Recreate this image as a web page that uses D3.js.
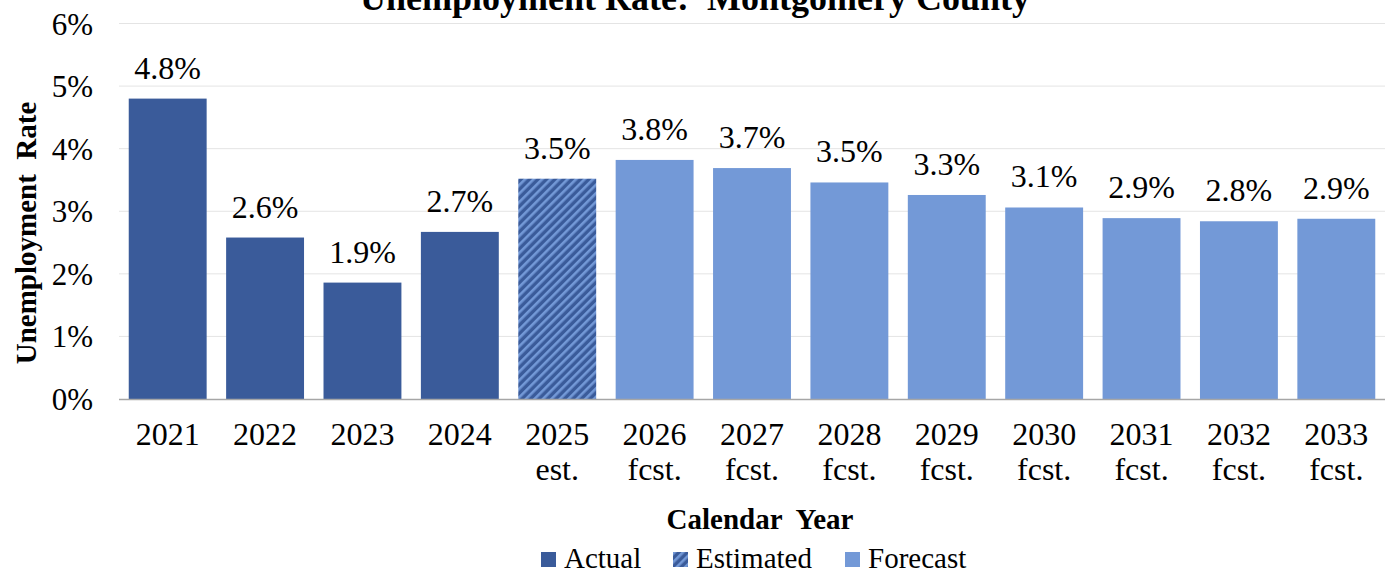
<!DOCTYPE html>
<html>
<head>
<meta charset="utf-8">
<script src="https://cdn.jsdelivr.net/npm/d3@7"></script>
<style>
	body { margin: 0; background: #fff; }
	svg text { font-family: "Liberation Serif", "Times New Roman", serif !important; fill: #000; }
</style>
</head>
<body>
<svg id="chart" width="1391" height="572" font-family="Liberation Serif"></svg>
<script>
// chart data
var years = ["2021", "2022", "2023", "2024", "2025", "2026", "2027", "2028", "2029", "2030", "2031", "2032", "2033"];
var subLabels = ["", "", "", "", "est.", "fcst.", "fcst.", "fcst.", "fcst.", "fcst.", "fcst.", "fcst.", "fcst."];
var rates = [4.8, 2.58, 1.86, 2.67, 3.52, 3.82, 3.69, 3.46, 3.26, 3.06, 2.89, 2.84, 2.88];
var kinds = ["Actual", "Actual", "Actual", "Actual", "Estimated", "Forecast", "Forecast", "Forecast", "Forecast", "Forecast", "Forecast", "Forecast", "Forecast"];
var yTicks = [0, 1, 2, 3, 4, 5, 6];
var legendItems = ["Actual", "Estimated", "Forecast"];

var dark = "#3a5b9a",
	light = "#7399d7";

var svg = d3.select("#chart");

//plot area
var margin = {top: 23.5, left: 119, right: 6, bottom: 173},
	width = 1391 - margin.left - margin.right,
	height = 572 - margin.top - margin.bottom;

var g = svg.append("g")
	.attr("transform", "translate(" + margin.left + "," + margin.top + ")");

var x = d3.scaleBand()
	.domain(years)
	.range([0, width])
	.paddingInner(0.2)
	.paddingOuter(0.1);

var y = d3.scaleLinear()
	.domain([0, 6])
	.range([height, 0]);

//hatch pattern for the estimate
var defs = svg.append("defs");
var pat = defs.append("pattern")
	.attr("id", "hatch")
	.attr("patternUnits", "userSpaceOnUse")
	.attr("width", 6)
	.attr("height", 6)
	.attr("patternTransform", "rotate(45)");
pat.append("rect").attr("width", 6).attr("height", 6).attr("fill", dark);
pat.append("rect").attr("x", 0).attr("width", 2.6).attr("height", 6).attr("fill", light);

var fillFor = function(k){
	if (k == "Actual") return dark;
	if (k == "Estimated") return "url(#hatch)";
	return light;
};

//gridlines
g.append("g")
	.selectAll("line")
	.data(yTicks.filter(function(d){ return d > 0; }))
	.enter().append("line")
	.attr("x1", 0)
	.attr("x2", width)
	.attr("y1", function(d){ return y(d); })
	.attr("y2", function(d){ return y(d); })
	.attr("stroke", "#e4e4e4")
	.attr("stroke-width", 1);

//y axis labels
var yAxis = d3.axisLeft(y)
	.tickValues(yTicks)
	.tickFormat(function(d){ return d + "%"; })
	.tickSize(0)
	.tickPadding(26);
var ya = g.append("g").call(yAxis)
	.attr("font-family", "Liberation Serif")
	.attr("font-size", 31);
ya.select(".domain").remove();
ya.selectAll("text")
	.attr("dy", "0.34em")
	.attr("fill", "#000");

//bars
g.selectAll(".bar")
	.data(years)
	.enter().append("rect")
	.attr("class", "bar")
	.attr("x", function(d){ return x(d); })
	.attr("y", function(d, i){ return y(rates[i]); })
	.attr("width", x.bandwidth())
	.attr("height", function(d, i){ return y(0) - y(rates[i]); })
	.attr("fill", function(d, i){ return fillFor(kinds[i]); });

//value labels
g.selectAll(".val")
	.data(years)
	.enter().append("text")
	.attr("class", "val")
	.attr("x", function(d){ return x(d) + x.bandwidth() / 2; })
	.attr("y", function(d, i){ return y(rates[i]) - 20; })
	.attr("text-anchor", "middle")
	.attr("font-size", 32)
	.text(function(d, i){ return rates[i].toFixed(1) + "%"; });

//x axis line
g.append("line")
	.attr("x1", 0)
	.attr("x2", width)
	.attr("y1", height + 0.5)
	.attr("y2", height + 0.5)
	.attr("stroke", "#a6a6a6")
	.attr("stroke-width", 1.3);

//x labels
var xl = g.selectAll(".xl")
	.data(years)
	.enter().append("text")
	.attr("class", "xl")
	.attr("text-anchor", "middle")
	.attr("font-size", 32)
	.attr("x", function(d){ return x(d) + x.bandwidth() / 2; })
	.attr("y", height + 46);
xl.append("tspan").text(function(d){ return d; });
xl.append("tspan")
	.attr("x", function(d){ return x(d) + x.bandwidth() / 2; })
	.attr("dy", 35)
	.text(function(d, i){ return subLabels[i]; });

//titles
svg.append("text")
	.attr("x", 695)
	.attr("y", 10)
	.attr("text-anchor", "middle")
	.attr("font-size", 36)
	.attr("font-weight", "bold")
	.style("white-space", "pre")
	.text("Unemployment Rate:  Montgomery County");

svg.append("text")
	.attr("x", 760)
	.attr("y", 529)
	.attr("text-anchor", "middle")
	.attr("font-size", 29)
	.attr("font-weight", "bold")
	.style("white-space", "pre")
	.text("Calendar  Year");

svg.append("text")
	.attr("transform", "translate(36,233) rotate(-90)")
	.attr("text-anchor", "middle")
	.attr("font-size", 29)
	.attr("font-weight", "bold")
	.style("white-space", "pre")
	.text("Unemployment  Rate");

//legend
var legX = [541, 673, 845];
var leg = svg.append("g").selectAll("g")
	.data(legendItems)
	.enter().append("g")
	.attr("transform", function(d, i){ return "translate(" + legX[i] + ",552)"; });
leg.append("rect")
	.attr("width", 15)
	.attr("height", 15)
	.attr("fill", function(d){ return fillFor(d); });
leg.append("text")
	.attr("x", 23)
	.attr("y", 16)
	.attr("font-size", 29)
	.text(function(d){ return d; });
</script>
</body>
</html>
